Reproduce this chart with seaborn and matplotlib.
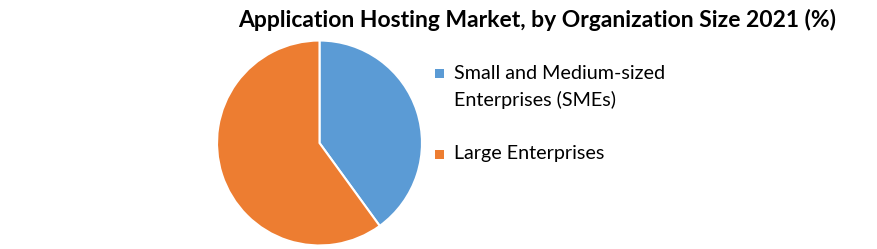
import matplotlib
matplotlib.use("Agg")
import matplotlib.pyplot as plt
import matplotlib.patches as mpatches
import seaborn as sns

# Data
segments = ["Small and Medium-sized\nEnterprises (SMEs)", "Large Enterprises"]
shares = [40, 60]
colors = ["#5B9BD5", "#ED7D31"]
title = "Application Hosting Market, by Organization Size 2021 (%)"

sns.set_theme(style="white")
plt.rcParams['font.family'] = ['Lato', 'DejaVu Sans']

W, H = 877, 249
fig = plt.figure(figsize=(W / 100, H / 100), dpi=100)
fig.patch.set_facecolor("white")

cx, cy, r = 319.5, 143, 103.5
ax = fig.add_axes([(cx - r) / W, (H - cy - r) / H, 2 * r / W, 2 * r / H])
ax.pie(shares, colors=colors, startangle=90, counterclock=False,
       wedgeprops=dict(edgecolor="white", linewidth=1.5), radius=1)
ax.set_xlim(-1.01, 1.01)
ax.set_ylim(-1.01, 1.01)
ax.set_aspect("equal")
ax.axis("off")

fig.text(537 / W, 1 - 20 / H, title, ha="center", va="center",
         fontsize=16.5, fontweight="bold", color="black")

# Legend (manual placement)
ys = [74, 154]
for lab, col, y in zip(segments, colors, ys):
    sq = 9
    fig.patches.append(mpatches.Rectangle(((439 - sq / 2) / W, 1 - (y + sq / 2) / H),
                                          sq / W, sq / H, transform=fig.transFigure,
                                          facecolor=col, edgecolor="none"))
    fig.text(454 / W, 1 - (y - 9) / H, lab, ha="left", va="top",
             fontsize=14.2, color="black", linespacing=1.6)

fig.savefig("out.png", dpi=100, facecolor="white")
